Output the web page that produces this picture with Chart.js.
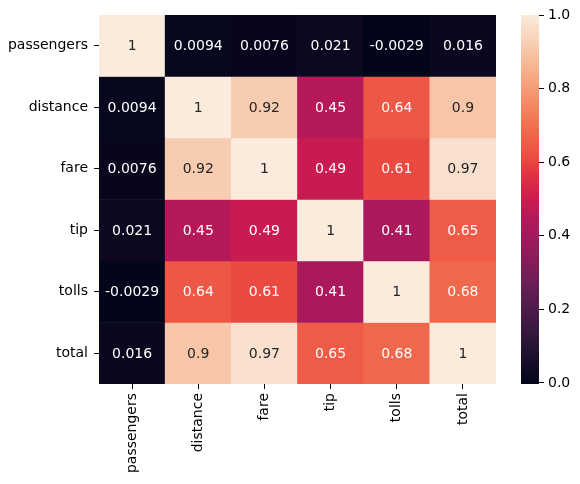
<!DOCTYPE html>
<html>
<head>
<meta charset="utf-8">
<script src="https://cdn.jsdelivr.net/npm/chart.js@4.4.0/dist/chart.umd.min.js"></script>
<style>
  body { margin: 0; background: #fff; }
  #wrap { position: relative; width: 580px; height: 484px; }
  #heat { position: absolute; left: 0; top: 0; }
  #bar { position: absolute; left: 500px; top: 0; }
</style>
</head>
<body>
<div id="wrap">
  <canvas id="heat" width="580" height="484"></canvas>
  <canvas id="bar" width="80" height="484"></canvas>
</div>
<script>
const labels = ["passengers", "distance", "fare", "tip", "tolls", "total"];

// correlation rows, same order as labels
const passengers = [1, 0.0094, 0.0076, 0.021, -0.0029, 0.016];
const distance = [0.0094, 1, 0.92, 0.45, 0.64, 0.9];
const fare = [0.0076, 0.92, 1, 0.49, 0.61, 0.97];
const tip = [0.021, 0.45, 0.49, 1, 0.41, 0.65];
const tolls = [-0.0029, 0.64, 0.61, 0.41, 1, 0.68];
const total = [0.016, 0.9, 0.97, 0.65, 0.68, 1];
const rows = [passengers, distance, fare, tip, tolls, total];

const colorbarTicks = [0, 0.2, 0.4, 0.6, 0.8, 1.0];

// seaborn "rocket" colormap, [position, colour]
const rocket = [
  [0.0, "#03051A"],
  [0.143, "#35193E"],
  [0.286, "#701F57"],
  [0.41, "#A8195C"],
  [0.45, "#B5195A"],
  [0.5, "#CB1B4F"],
  [0.571, "#E13342"],
  [0.61, "#EB4A40"],
  [0.714, "#F37651"],
  [0.857, "#F6B48F"],
  [1.0, "#FAEBDD"],
];

const vmin = Math.min(...rows.flat());
const vmax = Math.max(...rows.flat());

function hexRgb(h) {
  return [1, 3, 5].map((i) => parseInt(h.slice(i, i + 2), 16));
}

function rocketColor(v) {
  let t = (v - vmin) / (vmax - vmin);
  t = Math.max(0, Math.min(1, t));
  let i = 0;
  while (i < rocket.length - 2 && t > rocket[i + 1][0]) i++;
  const [p0, c0] = rocket[i];
  const [p1, c1] = rocket[i + 1];
  const f = (t - p0) / (p1 - p0);
  const a = hexRgb(c0);
  const b = hexRgb(c1);
  const c = a.map((x, k) => Math.round(x + (b[k] - x) * f));
  return `rgb(${c[0]},${c[1]},${c[2]})`;
}

function fmt(v) {
  return Number(v.toPrecision(2)).toString();
}

const font = { family: "DejaVu Sans", size: 14 };

const annotate = {
  id: "annotate",
  afterDatasetsDraw(chart) {
    const ctx = chart.ctx;
    ctx.save();
    ctx.font = "14px 'DejaVu Sans'";
    ctx.textAlign = "center";
    ctx.textBaseline = "middle";
    chart.data.datasets.forEach((ds, i) => {
      const meta = chart.getDatasetMeta(i);
      meta.data.forEach((bar, j) => {
        const p = bar.getProps(["x", "y", "base"], true);
        const v = rows[i][j];
        ctx.fillStyle = v > 0.8 ? "#262626" : "#ffffff";
        ctx.fillText(fmt(v), p.x, (p.y + p.base) / 2 + 1);
      });
    });
    ctx.restore();
  },
};

new Chart(document.getElementById("heat"), {
  type: "bar",
  data: {
    labels: labels,
    datasets: rows.map((r, i) => ({
      label: labels[i],
      data: r.map(() => 1),
      backgroundColor: r.map(rocketColor),
      borderWidth: 0,
      barPercentage: 1,
      categoryPercentage: 1,
    })),
  },
  options: {
    responsive: false,
    animation: false,
    layout: { padding: { top: 15, right: 84, left: 0, bottom: 0 } },
    plugins: { legend: { display: false }, tooltip: { enabled: false } },
    scales: {
      x: {
        stacked: true,
        grid: { offset: false, drawOnChartArea: false, drawTicks: true, tickLength: 5, color: "#000" },
        border: { display: false },
        ticks: { color: "#000", font: font, minRotation: 90, maxRotation: 90, padding: 4 },
        afterFit: (s) => { s.height = 100; },
      },
      y: {
        stacked: true,
        reverse: true,
        min: 0,
        max: 6,
        grid: { drawOnChartArea: false, drawTicks: true, tickLength: 5, color: "#000" },
        border: { display: false },
        afterBuildTicks: (s) => {
          s.ticks = labels.map((l, i) => ({ value: i + 0.5 }));
        },
        ticks: {
          color: "#000",
          font: font,
          padding: 6,
          callback: (v) => labels[Math.floor(v)],
        },
        afterFit: (s) => { s.width = 99; },
      },
    },
  },
  plugins: [annotate],
});

new Chart(document.getElementById("bar"), {
  type: "bar",
  data: {
    labels: ["colorbar"],
    datasets: [{
      data: [[vmin, vmax]],
      borderWidth: 0,
      barPercentage: 1,
      categoryPercentage: 1,
      backgroundColor: (c) => {
        const a = c.chart.chartArea;
        if (!a) return rocket[0][1];
        const yScale = c.chart.scales.y;
        const g = c.chart.ctx.createLinearGradient(0, yScale.getPixelForValue(vmin), 0, yScale.getPixelForValue(vmax));
        rocket.forEach(([p, col]) => g.addColorStop(p, col));
        return g;
      },
    }],
  },
  options: {
    responsive: false,
    animation: false,
    layout: { padding: { top: 15, bottom: 100, left: 21, right: 0 } },
    plugins: { legend: { display: false }, tooltip: { enabled: false } },
    scales: {
      x: { display: false },
      y: {
        position: "right",
        min: vmin,
        max: vmax,
        grid: { drawOnChartArea: false, drawTicks: true, tickLength: 5, color: "#000" },
        border: { display: false },
        afterBuildTicks: (s) => {
          s.ticks = colorbarTicks.map((v) => ({ value: v }));
        },
        ticks: { color: "#000", font: font, padding: 4, callback: (v) => v.toFixed(1) },
        afterFit: (s) => { s.width = 41; },
      },
    },
  },
});
</script>
</body>
</html>
